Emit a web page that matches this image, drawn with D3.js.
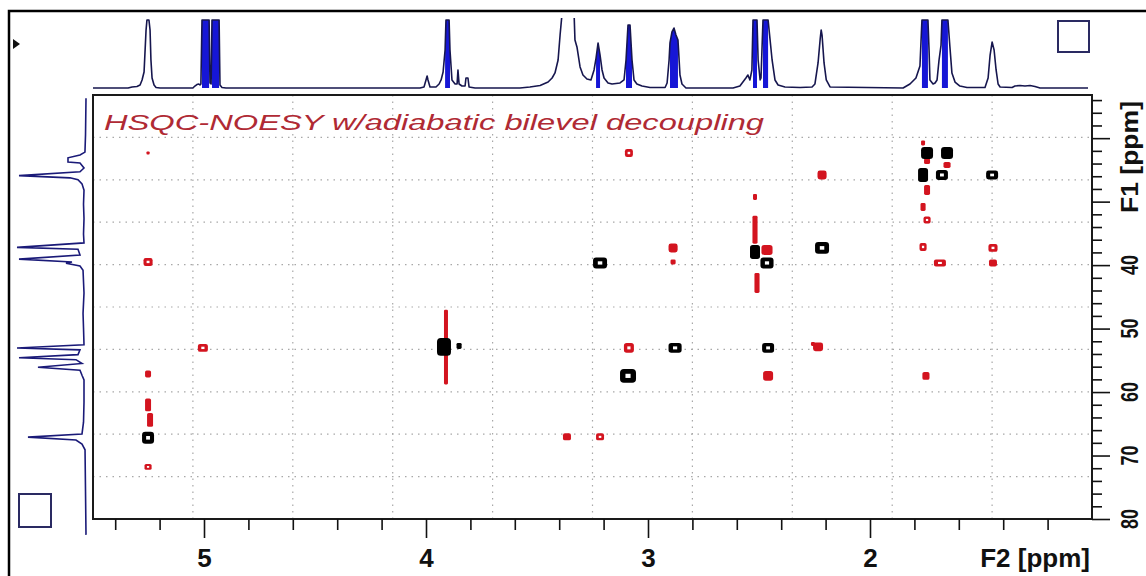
<!DOCTYPE html>
<html><head><meta charset="utf-8">
<script src="https://cdn.jsdelivr.net/npm/d3@7"></script>
<style>body{margin:0;background:#fff}svg{display:block}</style>
</head><body>
<svg id="chart" width="1146" height="576"></svg>
<script>
// ---------- data ----------
const f2Domain = [5.5, 1.0];          // 1H chemical shift (ppm), right-to-left
const f1Domain = [13.2, 80.0];        // 13C chemical shift (ppm), top-to-bottom
const f2Labels = [5, 4, 3, 2];
const f1Labels = [40, 50, 60, 70, 80];
const f2Title = "F2 [ppm]";
const f1Title = "F1 [ppm]";
const titleText = "HSQC-NOESY w/adiabatic bilevel decoupling";

// 1H projection: [ppm, relative intensity]
const topTrace = [
 [5.500,0],[5.342,0],[5.324,.015],[5.302,.022],[5.288,.044],[5.279,.118],[5.270,.235],[5.261,.853],[5.257,1],[5.248,1],[5.243,.853],[5.239,.412],[5.234,.147],[5.225,.044],[5.216,.007],[5.198,0],
 [5.050,0],[5.041,.029],[5.032,.051],[5.023,.059],[5.018,.044],[5.014,.059],[5.009,1],[4.977,1],[4.973,.074],[4.968,.059],[4.964,1],[4.932,1],[4.928,.044],[4.919,.007],[4.901,0],
 [4.027,0],[4.009,.015],[4.000,.118],[3.995,.176],[3.991,.118],[3.982,.015],[3.955,.015],[3.941,.059],[3.932,.118],[3.923,.235],[3.914,.559],[3.910,1],[3.896,1],[3.892,.559],[3.883,.118],[3.869,.059],[3.860,.059],[3.856,.265],[3.851,.059],[3.838,.029],[3.824,.029],[3.820,.147],[3.811,.147],[3.806,.015],[3.779,0],
 [3.577,0],[3.532,.015],[3.486,.037],[3.450,.088],[3.432,.147],[3.419,.221],[3.405,.412],[3.396,.779],[3.387,1.1],[3.333,1.1],[3.329,.706],[3.320,.603],[3.306,.309],[3.293,.191],[3.275,.132],[3.257,.118],[3.243,.265],[3.234,.441],[3.225,.662],[3.216,.485],[3.207,.265],[3.198,.147],[3.180,.074],[3.162,.059],[3.126,.074],[3.108,.118],[3.099,.412],[3.090,.926],[3.081,.926],[3.072,.412],[3.063,.118],[3.050,.059],[3.027,.029],[2.991,.007],[2.923,.007],[2.914,.074],[2.905,.412],[2.901,.662],[2.892,.824],[2.883,.882],[2.874,.779],[2.865,.706],[2.856,.191],[2.847,.059],[2.829,0],
 [2.617,0],[2.586,.029],[2.559,.147],[2.550,.191],[2.541,.118],[2.532,.265],[2.527,1],[2.509,1],[2.504,.412],[2.495,.118],[2.491,.147],[2.482,1],[2.459,1],[2.450,.706],[2.441,.412],[2.428,.118],[2.414,.044],[2.383,.015],[2.315,.007],[2.261,.015],[2.248,.059],[2.234,.368],[2.224,.735],[2.220,.853],[2.216,.779],[2.207,.368],[2.197,.118],[2.180,.015],
 [1.851,0],[1.820,.059],[1.793,.147],[1.775,.324],[1.766,1],[1.739,1],[1.734,.559],[1.730,.118],[1.716,.059],[1.707,.074],[1.698,.118],[1.689,.412],[1.680,.632],[1.676,1],[1.649,1],[1.640,.603],[1.631,.221],[1.617,.088],[1.595,.029],[1.563,.007],[1.482,.007],[1.468,.147],[1.459,.485],[1.450,.676],[1.441,.559],[1.432,.265],[1.423,.059],[1.414,.015],[1.360,.007],[1.347,.029],[1.324,.037],[1.302,.029],[1.279,.037],[1.257,.022],[1.234,0],[1.018,0]
];
// densely split multiplets in the 1H projection: [ppm from, ppm to]
const topDense = [[5.009,4.977],[4.964,4.932],[3.914,3.892],[3.234,3.216],[3.099,3.072],[2.901,2.865],[2.527,2.509],[2.482,2.459],[1.766,1.739],[1.676,1.649]];

// 13C projection: [ppm, relative intensity]
const leftTrace = [
 [13.7,0],[19.5,.007],[22.2,.015],[22.65,.087],[23.1,.261],[23.75,.261],[23.9,.087],[24.7,.029],[25.3,.087],[25.9,.971],[26.25,.232],[26.55,.116],[27.2,.058],[28.2,.029],[30.4,.036],[32.7,.029],[35.1,.036],[36.5,.029],
 [37.2,1.0],[37.5,.116],[38.4,.087],[39.05,.971],[39.5,.203],[39.7,.29],[40.15,.087],[40.8,.043],[44.4,.029],[47.6,.043],[49.9,.036],[52.55,.029],
 [53.05,1.0],[53.35,.087],[54.1,.116],[54.6,.971],[54.9,.145],[55.5,.058],[56.1,.696],[56.55,.087],[57.35,.058],[58.1,.029],[61.6,.029],[64.75,.036],[66.6,.058],
 [67.1,.841],[67.55,.145],[68.2,.058],[69.1,.014],[75.7,.007],[82.5,0]
];

// cross peaks: [1H ppm, 13C ppm, 1H width (ppm), 13C width (ppm), inner contour 1/0]
const positivePeaks = [
 [5.252,67.21,.054,1.88,1],[3.919,52.88,.063,2.82,0],[3.851,52.73,.023,.94,0],
 [3.216,39.66,.063,1.72,1],[3.090,57.45,.072,2.19,1],[2.878,53.04,.059,1.57,1],
 [2.518,37.93,.045,2.19,0],[2.464,39.66,.059,1.72,1],[2.459,53.04,.054,1.57,1],
 [2.216,37.29,.063,1.88,1],[1.743,22.34,.054,1.88,0],[1.653,22.34,.054,1.88,0],
 [1.761,25.8,.045,2.19,0],[1.676,25.8,.054,1.57,1],[1.450,25.8,.054,1.41,1]
];
const negativePeaks = [
 [5.252,22.34,.014,.47,0],[5.252,39.5,.041,1.25,1],[5.252,57.14,.027,1.1,0],
 [5.252,62.02,.027,2.04,0],[5.243,64.39,.027,2.19,0],[5.252,71.79,.032,.94,1],
 [5.005,53.04,.045,1.25,1],[3.910,52.92,.018,11.75,0],[3.365,67.06,.036,1.1,0],
 [3.216,67.06,.036,1.1,1],[3.086,22.34,.036,1.25,1],[3.086,53.04,.045,1.57,1],
 [2.887,37.29,.041,1.41,0],[2.887,39.5,.023,.78,0],[2.518,29.26,.018,.94,0],
 [2.518,34.43,.023,4.39,0],[2.509,42.82,.023,3.13,0],[2.464,37.61,.05,1.57,0],
 [2.216,25.8,.041,1.41,0],[2.459,57.45,.045,1.57,0],[2.234,52.88,.045,1.41,0],
 [2.257,52.41,.018,.63,0],[1.748,57.45,.032,1.25,0],[1.761,20.76,.018,.78,0],
 [1.743,23.62,.027,.94,0],[1.743,28.16,.027,1.57,0],[1.761,30.84,.023,1.25,0],
 [1.743,32.89,.032,1.1,1],[1.761,37.14,.032,1.25,1],[1.653,24.22,.032,.94,0],
 [1.685,39.66,.054,1.1,1],[1.446,37.29,.041,1.25,1],[1.446,39.66,.036,1.1,0]
];

// ---------- layout ----------
const frame = {left: 93, top: 95, right: 1092, bottom: 519};
const FONT = "'Liberation Sans', Arial, Helvetica, sans-serif";
const svg = d3.select("#chart");

const x = d3.scaleLinear().domain(f2Domain).range([frame.left, frame.right]);
const y = d3.scaleLinear().domain(f1Domain).range([frame.top, frame.bottom]);
const topY = d3.scaleLinear().domain([0, 1]).range([88, 20]);
const leftX = d3.scaleLinear().domain([0, 1]).range([86, 17]);

// outer window border
svg.append("path").attr("d", "M9,576V11H1146")
  .attr("fill", "none").attr("stroke", "#000").attr("stroke-width", 2.5);

// small cursor marker
svg.append("path").attr("d", "M13,39L20,44L13,49Z").attr("fill", "#111");

// clip regions
const defs = svg.append("defs");
defs.append("clipPath").attr("id", "clipTop")
  .append("rect").attr("x", frame.left).attr("y", 18).attr("width", frame.right - frame.left).attr("height", 72);
const dense = defs.append("clipPath").attr("id", "clipDense");
dense.selectAll("rect").data(topDense).join("rect")
  .attr("x", d => x(d[0])).attr("width", d => x(d[1]) - x(d[0]))
  .attr("y", 18).attr("height", 72);
defs.append("clipPath").attr("id", "clipPlot")
  .append("rect").attr("x", frame.left).attr("y", frame.top)
  .attr("width", frame.right - frame.left).attr("height", frame.bottom - frame.top);

// 1H projection
const gTop = svg.append("g").attr("clip-path", "url(#clipTop)");
gTop.append("g").attr("clip-path", "url(#clipDense)")
  .append("path").datum(topTrace)
  .attr("d", d3.area().x(d => x(d[0])).y0(topY(0)).y1(d => topY(d[1])))
  .attr("fill", "#1616d6");
gTop.append("path").datum(topTrace)
  .attr("d", d3.line().x(d => x(d[0])).y(d => topY(d[1])))
  .attr("fill", "none").attr("stroke", "#16164e").attr("stroke-width", 1.6)
  .attr("stroke-linejoin", "round");

// 13C projection
svg.append("path").datum(leftTrace)
  .attr("d", d3.line().x(d => leftX(d[1])).y(d => y(d[0])))
  .attr("fill", "none").attr("stroke", "#1a1a78").attr("stroke-width", 1.6);

// corner boxes
svg.append("rect").attr("x", 1058).attr("y", 21).attr("width", 31).attr("height", 31)
  .attr("fill", "none").attr("stroke", "#2a2a62").attr("stroke-width", 2);
svg.append("rect").attr("x", 19).attr("y", 494).attr("width", 32).attr("height", 33)
  .attr("fill", "none").attr("stroke", "#2a2a62").attr("stroke-width", 2);

// grid (10 x 10 divisions of the plot area)
const gGrid = svg.append("g").attr("stroke", "#a8a8a8").attr("stroke-width", 1.2)
  .attr("stroke-dasharray", "1.5 5");
d3.range(1, 10).forEach(i => {
  const gx = frame.left + i * (frame.right - frame.left) / 10;
  const gy = frame.top + i * (frame.bottom - frame.top) / 10;
  gGrid.append("line").attr("x1", gx).attr("x2", gx).attr("y1", frame.top).attr("y2", frame.bottom);
  gGrid.append("line").attr("y1", gy).attr("y2", gy).attr("x1", frame.left).attr("x2", frame.right);
});

// title
svg.append("text").attr("x", 104).attr("y", 130)
  .attr("font-family", FONT).attr("font-style", "italic").attr("font-size", 22)
  .attr("fill", "#b02a34").attr("textLength", 660).attr("lengthAdjust", "spacingAndGlyphs")
  .text(titleText);

// cross peaks
const gPeaks = svg.append("g").attr("clip-path", "url(#clipPlot)");
function drawPeaks(data, color) {
  const g = gPeaks.append("g");
  data.forEach(p => {
    const cx = x(p[0]), cy = y(p[1]);
    const rx = Math.abs(x(p[0] + p[2] / 2) - x(p[0] - p[2] / 2)) / 2;
    const ry = Math.abs(y(p[1] + p[3] / 2) - y(p[1] - p[3] / 2)) / 2;
    g.append("rect").attr("x", cx - rx).attr("y", cy - ry)
      .attr("width", 2 * rx).attr("height", 2 * ry)
      .attr("rx", Math.min(rx, ry) * 0.55).attr("fill", color);
    if (p[4]) {
      g.append("rect").attr("x", cx - rx * 0.32).attr("y", cy - ry * 0.3)
        .attr("width", rx * 0.64).attr("height", ry * 0.6).attr("fill", "#fff");
    }
  });
}
drawPeaks(negativePeaks, "#d3141f");
drawPeaks(positivePeaks, "#000");

// frame
svg.append("rect").attr("x", frame.left).attr("y", frame.top)
  .attr("width", frame.right - frame.left).attr("height", frame.bottom - frame.top)
  .attr("fill", "none").attr("stroke", "#1a1a1a").attr("stroke-width", 2);

// F2 axis
const minorF2 = d3.range(12, 55, 2).map(v => v / 10).filter(v => v % 1 !== 0);
const gx1 = svg.append("g").attr("transform", `translate(0,${frame.bottom})`)
  .call(d3.axisBottom(x).tickValues(minorF2).tickSize(11).tickFormat(""));
const gx2 = svg.append("g").attr("transform", `translate(0,${frame.bottom})`)
  .call(d3.axisBottom(x).tickValues(f2Labels).tickSize(19).tickFormat(d3.format("d")));
[gx1, gx2].forEach(g => {
  g.select(".domain").remove();
  g.selectAll("line").attr("stroke", "#111").attr("stroke-width", 1.6);
});
gx2.selectAll("text").attr("y", 48).attr("dy", 0)
  .attr("font-family", FONT).attr("font-weight", "bold").attr("font-size", 26).attr("fill", "#111");
svg.append("text").attr("x", 1090).attr("y", 567).attr("text-anchor", "end")
  .attr("font-family", FONT).attr("font-weight", "bold").attr("font-size", 26).attr("fill", "#111")
  .text(f2Title);

// F1 axis
const minorF1 = d3.range(14, 81, 2).filter(v => v % 10 !== 0);
const majorF1 = d3.range(20, 81, 10);
const gy1 = svg.append("g").attr("transform", `translate(${frame.right},0)`)
  .call(d3.axisRight(y).tickValues(minorF1).tickSize(10).tickFormat(""));
const gy2 = svg.append("g").attr("transform", `translate(${frame.right},0)`)
  .call(d3.axisRight(y).tickValues(majorF1).tickSize(18).tickFormat(""));
[gy1, gy2].forEach(g => {
  g.select(".domain").remove();
  g.selectAll("line").attr("stroke", "#111").attr("stroke-width", 1.6);
});
svg.append("g").selectAll("text").data(f1Labels).join("text")
  .attr("transform", d => `translate(1129,${y(d)}) rotate(-90) scale(0.75,1)`)
  .attr("text-anchor", "middle").attr("dy", "0.36em")
  .attr("font-family", FONT).attr("font-weight", "bold").attr("font-size", 24).attr("fill", "#111")
  .text(d => d);
svg.append("text").attr("transform", "translate(1129,157) rotate(-90)")
  .attr("text-anchor", "middle").attr("dy", "0.36em")
  .attr("textLength", 112).attr("lengthAdjust", "spacingAndGlyphs")
  .attr("font-family", FONT).attr("font-weight", "bold").attr("font-size", 24).attr("fill", "#111")
  .text(f1Title);
</script>
</body></html>
